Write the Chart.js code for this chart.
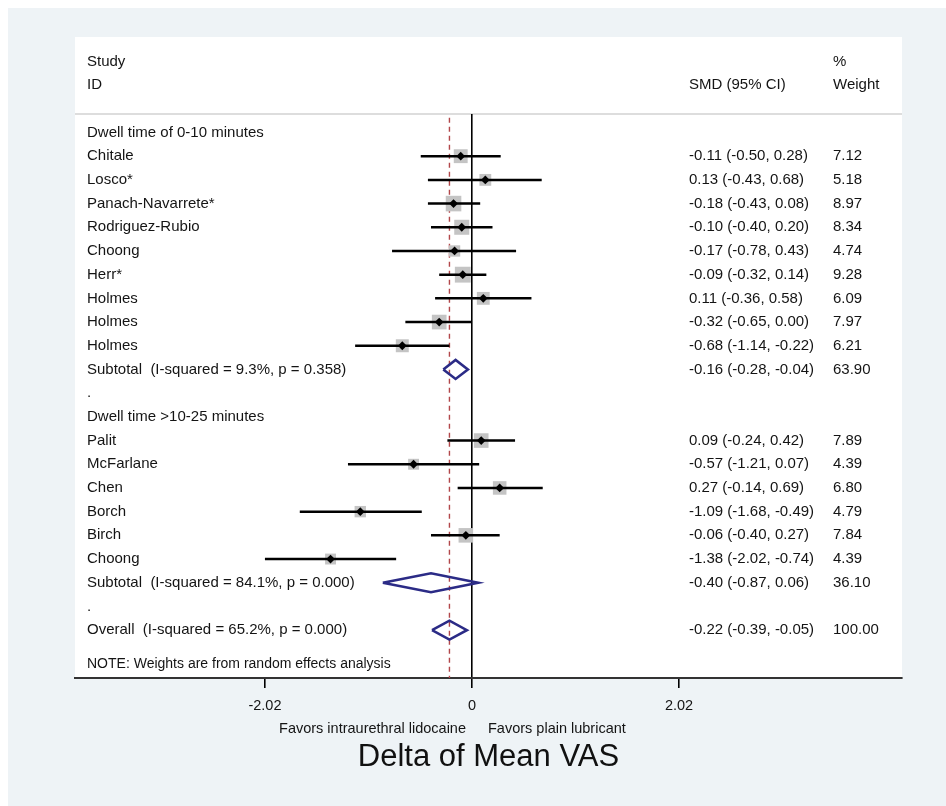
<!DOCTYPE html>
<html>
<head>
<meta charset="utf-8">
<script src="https://cdn.jsdelivr.net/npm/chart.js@4.4.1/dist/chart.umd.min.js"></script>
<style>
    html, body { margin: 0; padding: 0; background: #ffffff; }
    canvas { display: block; }
</style>
</head>
<body>
<canvas id="forest" width="946" height="806"></canvas>
<script>
// studies (row = line in the table)
const studyNames = ["Chitale", "Losco*", "Panach-Navarrete*", "Rodriguez-Rubio", "Choong", "Herr*",
    "Holmes", "Holmes", "Holmes",
    "Palit", "McFarlane", "Chen", "Borch", "Birch", "Choong"];
const studyRows = [1, 2, 3, 4, 5, 6, 7, 8, 9, 13, 14, 15, 16, 17, 18];
const studyEst = [-0.11, 0.13, -0.18, -0.10, -0.17, -0.09, 0.11, -0.32, -0.68, 0.09, -0.57, 0.27, -1.09, -0.06, -1.38];
const studyLo = [-0.50, -0.43, -0.43, -0.40, -0.78, -0.32, -0.36, -0.65, -1.14, -0.24, -1.21, -0.14, -1.68, -0.40, -2.02];
const studyHi = [0.28, 0.68, 0.08, 0.20, 0.43, 0.14, 0.58, 0.00, -0.22, 0.42, 0.07, 0.69, -0.49, 0.27, -0.74];
const studyWeight = [7.12, 5.18, 8.97, 8.34, 4.74, 9.28, 6.09, 7.97, 6.21, 7.89, 4.39, 6.80, 4.79, 7.84, 4.39];

// pooled estimates
const poolNames = ["Subtotal  (I-squared = 9.3%, p = 0.358)", "Subtotal  (I-squared = 84.1%, p = 0.000)",
    "Overall  (I-squared = 65.2%, p = 0.000)"];
const poolRows = [10, 19, 21];
const poolEst = [-0.16, -0.40, -0.22];
const poolLo = [-0.28, -0.87, -0.39];
const poolHi = [-0.04, 0.06, -0.05];
const poolWeight = [63.90, 36.10, 100.00];

const groupNames = ["Dwell time of 0-10 minutes", "Dwell time >10-25 minutes"];
const groupRows = [0, 12];
const spacerRows = [11, 20];

const tickValues = [-2.02, 0, 2.02];
const tickLabels = ["-2.02", "0", "2.02"];

const FONT = 'Arial, "Liberation Sans", sans-serif';
const overallEst = poolEst[2];

// CI lines as one broken line
let ciPoints = [];
for (let i = 0; i < studyNames.length; i++) {
    ciPoints.push({x: studyLo[i], y: studyRows[i]});
    ciPoints.push({x: studyHi[i], y: studyRows[i]});
    ciPoints.push({x: null, y: null});
}

// diamonds for pooled estimates
let diamondPoints = [];
for (let i = 0; i < poolNames.length; i++) {
    const r = poolRows[i];
    diamondPoints.push({x: poolLo[i], y: r});
    diamondPoints.push({x: poolEst[i], y: r - 0.4});
    diamondPoints.push({x: poolHi[i], y: r});
    diamondPoints.push({x: poolEst[i], y: r + 0.4});
    diamondPoints.push({x: poolLo[i], y: r});
    diamondPoints.push({x: null, y: null});
}

const centerPoints = studyNames.map((n, i) => ({x: studyEst[i], y: studyRows[i]}));

const panelPlugin = {
    id: "panel",
    beforeDraw(chart) {
        const ctx = chart.ctx;
        const a = chart.chartArea;
        ctx.save();
        ctx.fillStyle = "#eef3f6";
        ctx.fillRect(8, 8, chart.width - 8, chart.height - 8);
        ctx.fillStyle = "#ffffff";
        ctx.fillRect(a.left, 37, a.right - a.left, a.bottom - 37);
        ctx.strokeStyle = "#d2d2d2";
        ctx.lineWidth = 1.5;
        ctx.beginPath();
        ctx.moveTo(a.left, a.top);
        ctx.lineTo(a.right, a.top);
        ctx.stroke();
        ctx.restore();
    },
    afterDraw(chart) {
        const ctx = chart.ctx;
        const a = chart.chartArea;
        const y = chart.scales.y;
        const x = chart.scales.x;
        const colLabel = a.left + 12;
        const colSmd = 689;
        const colWeight = 833;
        ctx.save();
        ctx.fillStyle = "#141414";
        ctx.textBaseline = "middle";
        ctx.textAlign = "left";
        ctx.font = "15px " + FONT;
        ctx.fillText("Study", colLabel, 62);
        ctx.fillText("ID", colLabel, 85);
        ctx.fillText("SMD (95% CI)", colSmd, 85);
        ctx.fillText("%", colWeight, 62);
        ctx.fillText("Weight", colWeight, 85);

        for (let i = 0; i < groupNames.length; i++) {
            ctx.fillText(groupNames[i], colLabel, y.getPixelForValue(groupRows[i]));
        }
        for (let i = 0; i < spacerRows.length; i++) {
            ctx.fillText(".", colLabel, y.getPixelForValue(spacerRows[i]));
        }
        for (let i = 0; i < studyNames.length; i++) {
            const py = y.getPixelForValue(studyRows[i]);
            ctx.fillText(studyNames[i], colLabel, py);
            ctx.fillText(studyEst[i].toFixed(2) + " (" + studyLo[i].toFixed(2) + ", " + studyHi[i].toFixed(2) + ")", colSmd, py);
            ctx.fillText(studyWeight[i].toFixed(2), colWeight, py);
        }
        for (let i = 0; i < poolNames.length; i++) {
            const py = y.getPixelForValue(poolRows[i]);
            ctx.fillText(poolNames[i], colLabel, py);
            ctx.fillText(poolEst[i].toFixed(2) + " (" + poolLo[i].toFixed(2) + ", " + poolHi[i].toFixed(2) + ")", colSmd, py);
            ctx.fillText(poolWeight[i].toFixed(2), colWeight, py);
        }

        ctx.font = "14px " + FONT;
        ctx.fillText("NOTE: Weights are from random effects analysis", colLabel, a.bottom - 14);

        const zero = x.getPixelForValue(0);
        ctx.font = "14.5px " + FONT;
        ctx.textAlign = "right";
        ctx.fillText("Favors intraurethral lidocaine", zero - 6, a.bottom + 51);
        ctx.textAlign = "left";
        ctx.fillText("Favors plain lubricant", zero + 16, a.bottom + 51);
        ctx.restore();
    }
};

new Chart(document.getElementById("forest"), {
    type: "scatter",
    data: {
        datasets: [
            {
                type: "line",
                data: diamondPoints,
                borderColor: "#2b2b86",
                borderWidth: 2.6,
                pointRadius: 0,
                fill: false,
                spanGaps: false,
                order: 1,
            },
            {
                data: centerPoints,
                pointStyle: "rectRot",
                pointRadius: 4.4,
                backgroundColor: "#000000",
                borderWidth: 0,
                order: 2,
            },
            {
                type: "line",
                data: ciPoints,
                borderColor: "#000000",
                borderWidth: 2.5,
                pointRadius: 0,
                spanGaps: false,
                order: 3,
            },
            {
                data: centerPoints,
                pointStyle: "rect",
                pointRadius: (c) => 5.2 * Math.sqrt(studyWeight[c.dataIndex]) / Math.SQRT2,
                backgroundColor: "#c4c4c4",
                borderWidth: 0,
                order: 4,
            },
            {
                type: "line",
                data: [{x: overallEst, y: -1}, {x: overallEst, y: 24}],
                borderColor: "#b2474a",
                borderWidth: 1.4,
                borderDash: [5, 4],
                pointRadius: 0,
                order: 5,
            },
        ],
    },
    options: {
        responsive: false,
        animation: false,
        layout: {
            padding: {left: 75, right: 44, top: 114, bottom: 0},
        },
        plugins: {
            legend: {display: false},
            tooltip: {enabled: false},
        },
        scales: {
            x: {
                type: "linear",
                min: -3.873,
                max: 4.195,
                afterBuildTicks(scale) {
                    scale.ticks = tickValues.map(v => ({value: v}));
                },
                afterFit(scale) {
                    scale.height = 128;
                },
                ticks: {
                    callback: (value, index) => tickLabels[index],
                    color: "#141414",
                    font: {family: FONT, size: 14.5},
                    padding: 9,
                    maxRotation: 0,
                },
                grid: {
                    color: (c) => (c.tick && c.tick.value === 0) ? "#000000" : "rgba(0,0,0,0)",
                    lineWidth: 1.6,
                    tickColor: "#000000",
                    tickLength: 10,
                },
                border: {display: true, color: "#333333", width: 2},
                title: {
                    display: true,
                    text: "Delta of Mean VAS",
                    color: "#111111",
                    font: {family: FONT, size: 31},
                    padding: {top: 0, bottom: 30},
                },
            },
            y: {
                type: "linear",
                display: false,
                reverse: true,
                min: -0.78,
                max: 23.02,
            },
        },
    },
    plugins: [panelPlugin],
});
</script>
</body>
</html>
